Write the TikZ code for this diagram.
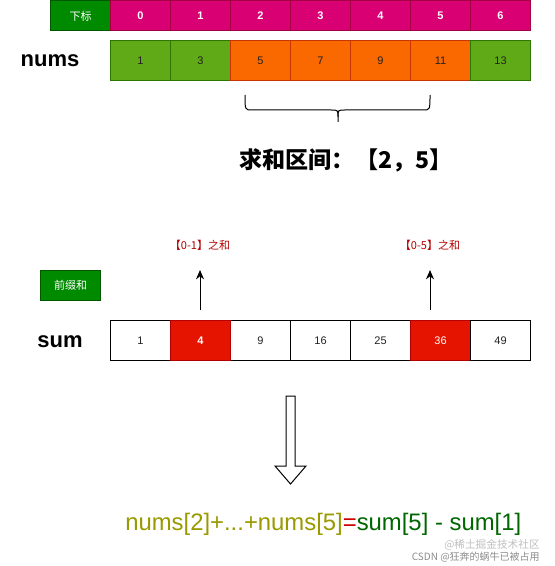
\documentclass[tikz,border=0pt]{standalone}
\usepackage{fontspec}
\setmainfont{Liberation Sans}
\newfontfamily\cjk{Noto Sans CJK SC}
\usetikzlibrary{arrows.meta}
\definecolor{hdrgreen}{HTML}{008A00}
\definecolor{hdrgreenline}{HTML}{005700}
\definecolor{pinkfill}{HTML}{D80073}
\definecolor{pinkline}{HTML}{A50040}
\definecolor{cellgreen}{HTML}{60A917}
\definecolor{cellgreenline}{HTML}{2D7600}
\definecolor{cellorange}{HTML}{FA6800}
\definecolor{cellorangeline}{HTML}{C73500}
\definecolor{cellred}{HTML}{E51400}
\definecolor{cellredline}{HTML}{B20000}
\definecolor{labelred}{HTML}{B20000}
\definecolor{olivetext}{HTML}{999900}
\definecolor{eqred}{HTML}{CC0000}
\definecolor{eqgreen}{HTML}{006600}
\definecolor{celltext}{HTML}{222222}
\begin{document}
\begin{tikzpicture}[x=0.75pt,y=-0.75pt,
  cell/.style={draw, line width=0.75pt, minimum width=45pt, minimum height=22.5pt, inner sep=0pt, anchor=north west, font=\fontsize{8.25}{10}\selectfont},
  tallcell/.style={cell, minimum height=30pt},
  hdrbox/.style={cell, fill=hdrgreen, draw=hdrgreenline, text=white},
  pinkbox/.style={cell, fill=pinkfill, draw=pinkline, text=white, font=\fontsize{8.25}{10}\selectfont\bfseries},
  greenbox/.style={tallcell, fill=cellgreen, draw=cellgreenline, text=celltext},
  orangebox/.style={tallcell, fill=cellorange, draw=cellorangeline, text=celltext},
  whitebox/.style={tallcell, fill=white, draw=black, text=celltext},
  redbox/.style={tallcell, fill=cellred, draw=cellredline, text=white},
  rowlabel/.style={font=\fontsize{16.5}{18}\selectfont\bfseries},
  sumnote/.style={text=labelred, font=\fontsize{8.25}{10}\selectfont\cjk},
  uparrow/.style={-{Stealth[length=7pt,width=6pt]}, line width=0.75pt}
]
\useasboundingbox (0,0) rectangle (554,566);
% header row
\node[hdrbox] (h) at (50,0.5) {\cjk 下标};
\foreach \i in {0,...,6} {
  \node[pinkbox] (p\i) at (110+60*\i,0.5) {\i};
}
% nums row
\node[rowlabel] (numslabel) at (50,61) {nums};
\foreach \i/\v/\s in {0/1/greenbox,1/3/greenbox,2/5/orangebox,3/7/orangebox,4/9/orangebox,5/11/orangebox,6/13/greenbox} {
  \node[\s] (n\i) at (110+60*\i,40) {\v};
}
% brace
\coordinate (bl) at (245,95);
\coordinate (br) at (430,95);
\coordinate (bt) at (338,122);
\draw[line width=0.75pt] (bl) .. controls (245,110) and (245,110) .. (252,110) -- (331,110)
  .. controls (338,110) and (338,110) .. (338,117) -- (bt);
\draw[line width=0.75pt] (338,117) .. controls (338,110) and (338,110) .. (345,110) -- (423,110)
  .. controls (430,110) and (430,110) .. (br);
\node[font=\fontsize{17.3}{20}\selectfont\bfseries\cjk] (range) at (346,160) {求和区间：【2，5】};
% prefix sum
\node[hdrbox] (pre) at (40,270) {\cjk 前缀和};
\node[rowlabel] (sumlabel) at (60,342) {sum};
\foreach \i/\v/\s in {0/1/whitebox,2/9/whitebox,3/16/whitebox,4/25/whitebox,5/36/redbox,6/49/whitebox} {
  \node[\s] (s\i) at (110+60*\i,320) {\v};
}
\node[redbox, font=\fontsize{8.25}{10}\selectfont\bfseries] (s1) at (170,320) {4};
\node[sumnote] (note1) at (200,245) {【0-1】之和};
\node[sumnote] (note2) at (430,245) {【0-5】之和};
\coordinate (a1s) at (200,310);
\coordinate (a1e) at (200,270);
\coordinate (a2s) at (430,310);
\coordinate (a2e) at (430,270);
\draw[uparrow] (a1s) -- (a1e);
\draw[uparrow] (a2s) -- (a2e);
% block arrow
\draw[line width=0.75pt, fill=white] (286,396) -- (295,396) -- (295,466) -- (306,466) -- (290.5,484) -- (275,466) -- (286,466) -- cycle;
% formula
\node[anchor=west, font=\fontsize{17.9}{20}\selectfont, inner sep=0pt] (eq) at (125,524)
  {\textcolor{olivetext}{nums[2]+...+nums[5]}\textcolor{eqred}{=}\textcolor{eqgreen}{sum[5] - sum[1]}};
% watermarks
\node[anchor=east, text=black!25, font=\fontsize{8}{9}\selectfont\cjk, inner sep=0pt] (wm1) at (540,545) {@稀土掘金技术社区};
\node[anchor=east, text=black!45, font=\fontsize{7.5}{9}\selectfont\cjk, inner sep=0pt] (wm2) at (540,557) {CSDN @狂奔的蜗牛已被占用};
\end{tikzpicture}
\end{document}
